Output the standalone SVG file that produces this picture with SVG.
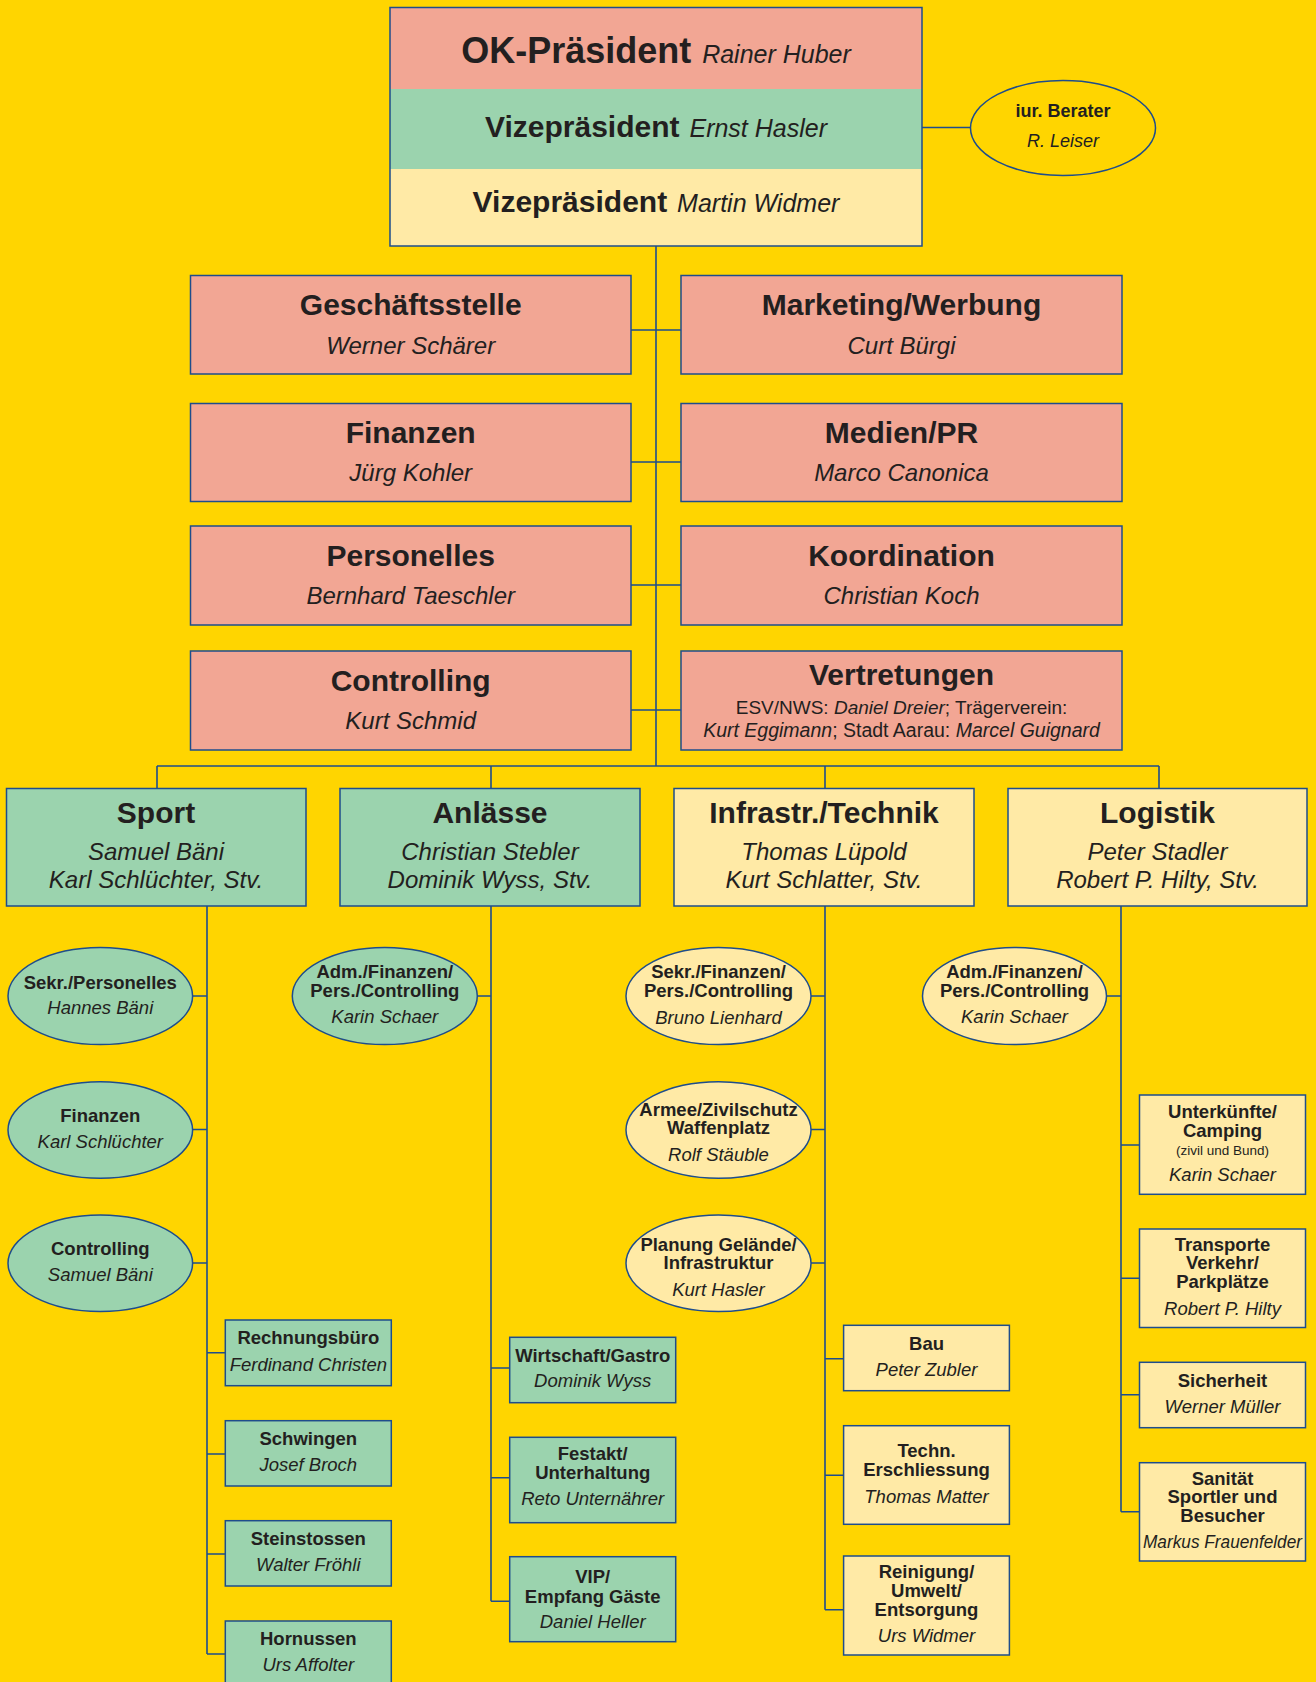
<svg xmlns="http://www.w3.org/2000/svg" width="1316" height="1682" viewBox="0 0 1316 1682">
<style>
text{font-family:"Liberation Sans",Arial,sans-serif;fill:#231F20;text-anchor:middle}
.nd{fill:#F2A694;stroke:#1E4D8C;stroke-width:1.5}
.g{fill:#9BD3AE;stroke:#1E4D8C;stroke-width:1.5}
.y{fill:#FFEAA6;stroke:#1E4D8C;stroke-width:1.5}
.e0{fill:#FFD500;stroke:#1E4D8C;stroke-width:1.5}
.c{fill:none;stroke:#1E4D8C;stroke-width:1.6}
.t30{font-size:30px;font-weight:bold}
.n24{font-size:24px;font-style:italic}
.s{font-size:18.5px;font-weight:bold}
.si{font-size:18.5px;font-style:italic}
</style>
<rect x="0" y="0" width="1316" height="1682" fill="#FFD500"/>

<g id="connectors">
<path class="c" d="M922 127.5H970.5"/>
<path class="c" d="M656 246V766"/>
<path class="c" d="M631 330H681M631 462H681M631 585H681M631 710H681"/>
<path class="c" d="M157 766H1159M157 766V788M491 766V788M825 766V788M1159 766V788"/>
<path class="c" d="M207 906V1654M192.6 996H207M192.6 1129.5H207M192.6 1263H207M207 1352.7H225.3M207 1454H225.3M207 1554H225.3M207 1654H225.3"/>
<path class="c" d="M491 906V1601.3M477.3 996H491M491 1368H509.7M491 1477.7H509.7M491 1601.3H509.7"/>
<path class="c" d="M825 906V1609.7M811 996H825M811 1129.5H825M811 1263H825M825 1358.7H843.6M825 1475.3H843.6M825 1609.7H843.6"/>
<path class="c" d="M1121 906V1511.7M1106.5 996H1121M1121 1145H1139.5M1121 1278.3H1139.5M1121 1394.7H1139.5M1121 1511.7H1139.5"/>
</g>

<g id="praesidium">
<rect x="390" y="7.5" width="532" height="81.5" fill="#F2A694"/>
<rect x="390" y="89" width="532" height="80" fill="#9BD3AE"/>
<rect x="390" y="169" width="532" height="77" fill="#FFEAA6"/>
<rect x="390" y="7.5" width="532" height="238.5" fill="none" stroke="#1E4D8C" stroke-width="1.5"/>
<text x="656" y="63" font-size="36" font-weight="bold">OK-Präsident<tspan font-size="25" font-style="italic" font-weight="normal" dx="4"> Rainer Huber</tspan></text>
<text x="656" y="137" font-size="30" font-weight="bold">Vizepräsident<tspan font-size="25" font-style="italic" font-weight="normal" dx="3"> Ernst Hasler</tspan></text>
<text x="656" y="212" font-size="30" font-weight="bold">Vizepräsident<tspan font-size="25" font-style="italic" font-weight="normal" dx="3"> Martin Widmer</tspan></text>
</g>

<g id="berater">
<ellipse class="e0" cx="1063" cy="128" rx="92.5" ry="47.5"/>
<text x="1063" y="117" font-size="18" font-weight="bold">iur. Berater</text>
<text x="1063" y="147" font-size="18" font-style="italic">R. Leiser</text>
</g>

<g id="geschaeftsstelle">
<rect class="nd" x="190.5" y="275.5" width="440.5" height="98.5"/>
<text class="t30" x="410.7" y="315">Geschäftsstelle</text>
<text class="n24" x="410.7" y="354">Werner Schärer</text>
</g>
<g id="marketing">
<rect class="nd" x="681" y="275.5" width="441" height="98.5"/>
<text class="t30" x="901.5" y="315">Marketing/Werbung</text>
<text class="n24" x="901.5" y="354">Curt Bürgi</text>
</g>
<g id="finanzen">
<rect class="nd" x="190.5" y="403.5" width="440.5" height="98"/>
<text class="t30" x="410.7" y="442.5">Finanzen</text>
<text class="n24" x="410.7" y="481">Jürg Kohler</text>
</g>
<g id="medien">
<rect class="nd" x="681" y="403.5" width="441" height="98"/>
<text class="t30" x="901.5" y="442.5">Medien/PR</text>
<text class="n24" x="901.5" y="481">Marco Canonica</text>
</g>
<g id="personelles">
<rect class="nd" x="190.5" y="526" width="440.5" height="99"/>
<text class="t30" x="410.7" y="565.5">Personelles</text>
<text class="n24" x="410.7" y="604">Bernhard Taeschler</text>
</g>
<g id="koordination">
<rect class="nd" x="681" y="526" width="441" height="99"/>
<text class="t30" x="901.5" y="565.5">Koordination</text>
<text class="n24" x="901.5" y="604">Christian Koch</text>
</g>
<g id="controlling">
<rect class="nd" x="190.5" y="651" width="440.5" height="99"/>
<text class="t30" x="410.7" y="690.5">Controlling</text>
<text class="n24" x="410.7" y="729">Kurt Schmid</text>
</g>
<g id="vertretungen">
<rect class="nd" x="681" y="651" width="441" height="99"/>
<text class="t30" x="901.5" y="685">Vertretungen</text>
<text x="901.5" y="714" font-size="19">ESV/NWS: <tspan font-style="italic">Daniel Dreier</tspan>; Trägerverein:</text>
<text x="901.5" y="737" font-size="19.5"><tspan font-style="italic">Kurt Eggimann</tspan>; Stadt Aarau: <tspan font-style="italic">Marcel Guignard</tspan></text>
</g>

<g id="sport">
<rect class="g" x="6.5" y="788.5" width="299.5" height="117.5"/>
<text class="t30" x="156" y="823">Sport</text>
<text class="n24" x="156" y="860">Samuel Bäni</text>
<text class="n24" x="156" y="888">Karl Schlüchter, Stv.</text>
</g>
<g id="anlaesse">
<rect class="g" x="340" y="788.5" width="300" height="117.5"/>
<text class="t30" x="490" y="823">Anlässe</text>
<text class="n24" x="490" y="860">Christian Stebler</text>
<text class="n24" x="490" y="888">Dominik Wyss, Stv.</text>
</g>
<g id="infrastruktur">
<rect class="y" x="674" y="788.5" width="300" height="117.5"/>
<text class="t30" x="824" y="823">Infrastr./Technik</text>
<text class="n24" x="824" y="860">Thomas Lüpold</text>
<text class="n24" x="824" y="888">Kurt Schlatter, Stv.</text>
</g>
<g id="logistik">
<rect class="y" x="1008" y="788.5" width="299" height="117.5"/>
<text class="t30" x="1157.5" y="823">Logistik</text>
<text class="n24" x="1157.5" y="860">Peter Stadler</text>
<text class="n24" x="1157.5" y="888">Robert P. Hilty, Stv.</text>
</g>

<g id="sport-sekr">
<ellipse class="g" cx="100.3" cy="996" rx="92.3" ry="48.5"/>
<text class="s" x="100.3" y="988.5">Sekr./Personelles</text>
<text class="si" x="100.3" y="1013.5">Hannes Bäni</text>
</g>
<g id="sport-finanzen">
<ellipse class="g" cx="100.3" cy="1130" rx="92.3" ry="48.3"/>
<text class="s" x="100.3" y="1121.7">Finanzen</text>
<text class="si" x="100.3" y="1148.3">Karl Schlüchter</text>
</g>
<g id="sport-controlling">
<ellipse class="g" cx="100.3" cy="1263.3" rx="92.3" ry="48.3"/>
<text class="s" x="100.3" y="1255">Controlling</text>
<text class="si" x="100.3" y="1280.7">Samuel Bäni</text>
</g>
<g id="sport-rechnungsbuero">
<rect class="g" x="225.3" y="1320" width="166" height="65.7"/>
<text class="s" x="308.3" y="1344">Rechnungsbüro</text>
<text class="si" x="308.3" y="1370.7">Ferdinand Christen</text>
</g>
<g id="sport-schwingen">
<rect class="g" x="225.3" y="1420.7" width="166" height="65.3"/>
<text class="s" x="308.3" y="1445">Schwingen</text>
<text class="si" x="308.3" y="1470.7">Josef Broch</text>
</g>
<g id="sport-steinstossen">
<rect class="g" x="225.3" y="1520.7" width="166" height="65.3"/>
<text class="s" x="308.3" y="1545">Steinstossen</text>
<text class="si" x="308.3" y="1570.7">Walter Fröhli</text>
</g>
<g id="sport-hornussen">
<rect class="g" x="225.3" y="1621" width="166" height="80"/>
<text class="s" x="308.3" y="1645">Hornussen</text>
<text class="si" x="308.3" y="1670.7">Urs Affolter</text>
</g>

<g id="anl-adm">
<ellipse class="g" cx="384.8" cy="996" rx="92.5" ry="48.5"/>
<text class="s" x="384.8" y="978.3">Adm./Finanzen/</text>
<text class="s" x="384.8" y="996.7">Pers./Controlling</text>
<text class="si" x="384.8" y="1023.3">Karin Schaer</text>
</g>
<g id="anl-wirtschaft">
<rect class="g" x="509.7" y="1337.3" width="166" height="65.4"/>
<text class="s" x="592.7" y="1361.7">Wirtschaft/Gastro</text>
<text class="si" x="592.7" y="1387.3">Dominik Wyss</text>
</g>
<g id="anl-festakt">
<rect class="g" x="509.7" y="1437.3" width="166" height="85.4"/>
<text class="s" x="592.7" y="1460">Festakt/</text>
<text class="s" x="592.7" y="1479.3">Unterhaltung</text>
<text class="si" x="592.7" y="1505">Reto Unternährer</text>
</g>
<g id="anl-vip">
<rect class="g" x="509.7" y="1556.7" width="166" height="85"/>
<text class="s" x="592.7" y="1583.3">VIP/</text>
<text class="s" x="592.7" y="1602.7">Empfang Gäste</text>
<text class="si" x="592.7" y="1628.3">Daniel Heller</text>
</g>

<g id="inf-sekr">
<ellipse class="y" cx="718.5" cy="996" rx="92.5" ry="48.5"/>
<text class="s" x="718.5" y="978.3">Sekr./Finanzen/</text>
<text class="s" x="718.5" y="996.7">Pers./Controlling</text>
<text class="si" x="718.5" y="1024">Bruno Lienhard</text>
</g>
<g id="inf-armee">
<ellipse class="y" cx="718.5" cy="1130" rx="92.5" ry="48.3"/>
<text class="s" x="718.5" y="1115.7">Armee/Zivilschutz</text>
<text class="s" x="718.5" y="1134.3">Waffenplatz</text>
<text class="si" x="718.5" y="1161">Rolf Stäuble</text>
</g>
<g id="inf-planung">
<ellipse class="y" cx="718.5" cy="1263.3" rx="92.5" ry="48.3"/>
<text class="s" x="718.5" y="1250.7">Planung Gelände/</text>
<text class="s" x="718.5" y="1269.3">Infrastruktur</text>
<text class="si" x="718.5" y="1295.7">Kurt Hasler</text>
</g>
<g id="inf-bau">
<rect class="y" x="843.6" y="1325.3" width="165.8" height="65.4"/>
<text class="s" x="926.5" y="1350">Bau</text>
<text class="si" x="926.5" y="1375.7">Peter Zubler</text>
</g>
<g id="inf-techn">
<rect class="y" x="843.6" y="1425.7" width="165.8" height="98.6"/>
<text class="s" x="926.5" y="1456.7">Techn.</text>
<text class="s" x="926.5" y="1476">Erschliessung</text>
<text class="si" x="926.5" y="1502.7">Thomas Matter</text>
</g>
<g id="inf-reinigung">
<rect class="y" x="843.6" y="1556" width="165.8" height="99"/>
<text class="s" x="926.5" y="1577.7">Reinigung/</text>
<text class="s" x="926.5" y="1596.7">Umwelt/</text>
<text class="s" x="926.5" y="1616">Entsorgung</text>
<text class="si" x="926.5" y="1641.7">Urs Widmer</text>
</g>

<g id="log-adm">
<ellipse class="y" cx="1014.5" cy="996" rx="92" ry="48.5"/>
<text class="s" x="1014.5" y="978.3">Adm./Finanzen/</text>
<text class="s" x="1014.5" y="996.7">Pers./Controlling</text>
<text class="si" x="1014.5" y="1023.3">Karin Schaer</text>
</g>
<g id="log-unterkuenfte">
<rect class="y" x="1139.5" y="1095" width="166" height="99.3"/>
<text class="s" x="1222.5" y="1118.3">Unterkünfte/</text>
<text class="s" x="1222.5" y="1136.7">Camping</text>
<text x="1222.5" y="1154.5" font-size="13.5">(zivil und Bund)</text>
<text class="si" x="1222.5" y="1180.7">Karin Schaer</text>
</g>
<g id="log-transporte">
<rect class="y" x="1139.5" y="1229" width="166" height="98.5"/>
<text class="s" x="1222.5" y="1250.7">Transporte</text>
<text class="s" x="1222.5" y="1269.3">Verkehr/</text>
<text class="s" x="1222.5" y="1288.3">Parkplätze</text>
<text class="si" x="1222.5" y="1315">Robert P. Hilty</text>
</g>
<g id="log-sicherheit">
<rect class="y" x="1139.5" y="1362.3" width="166" height="65.4"/>
<text class="s" x="1222.5" y="1387.3">Sicherheit</text>
<text class="si" x="1222.5" y="1412.7">Werner Müller</text>
</g>
<g id="log-sanitaet">
<rect class="y" x="1139.5" y="1462.7" width="166" height="98.3"/>
<text class="s" x="1222.5" y="1485">Sanität</text>
<text class="s" x="1222.5" y="1503.3">Sportler und</text>
<text class="s" x="1222.5" y="1522.3">Besucher</text>
<text class="si" x="1222.5" y="1548.3" textLength="159" lengthAdjust="spacingAndGlyphs">Markus Frauenfelder</text>
</g>
</svg>
